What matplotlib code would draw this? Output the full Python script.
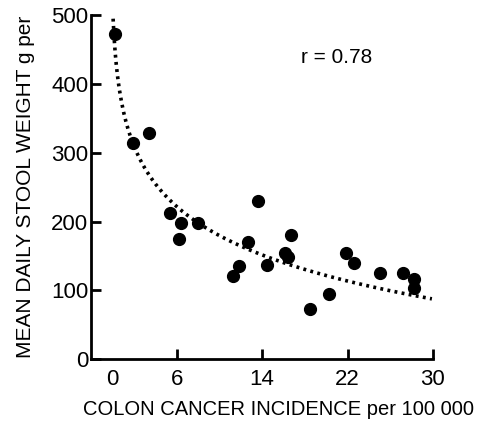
import numpy as np
import matplotlib
matplotlib.use("Agg")
import matplotlib.pyplot as plt

plt.rcParams['font.family'] = ['Liberation Sans', 'DejaVu Sans']

# colon cancer incidence per 100 000 vs mean daily stool weight
incidence = [0.2, 1.9, 3.4, 5.4, 6.4, 6.2, 8.0, 13.6, 12.7, 11.3, 11.8, 14.5,
             16.1, 16.4, 16.7, 18.5, 20.3, 21.9, 22.6, 25.0, 27.2, 28.2, 28.2]
stool = [472, 314, 328, 213, 198, 174, 198, 230, 170, 121, 135, 137,
         154, 148, 180, 73, 95, 154, 140, 125, 125, 116, 103]

# log trend line y = a - b*ln(x + c)
fit_a, fit_b, fit_c = 377.0, 85.0, 0.2
fit_range = (0.05, 29.9)

xticks = [0, 6, 14, 22, 30]
yticks = [0, 100, 200, 300, 400, 500]

fig = plt.figure(figsize=(4.8, 4.21), dpi=100)
ax = fig.add_axes([0.19, 0.147, 0.712, 0.817])

xs = np.linspace(fit_range[0], fit_range[1], 300)
ax.plot(xs, fit_a - fit_b * np.log(xs + fit_c), color='black', lw=2.6,
        linestyle=(0, (0.8, 1.2)), zorder=2)
ax.plot(incidence, stool, 'o', color='black', markersize=8.5, zorder=3)

ax.text(21, 439, 'r = 0.78', fontsize=15, ha='center', va='center')

ax.set_xlim(-2, 30)
ax.set_ylim(0, 500)
ax.set_xticks(xticks)
ax.set_yticks(yticks)
ax.tick_params(axis='both', direction='in', length=7, width=2, labelsize=16)
ax.tick_params(axis='x', pad=7)
ax.tick_params(axis='y', pad=2)
ax.xaxis.get_major_ticks()[0].tick1line.set_visible(False)

for s in ['top', 'right']:
    ax.spines[s].set_visible(False)
for s in ['left', 'bottom']:
    ax.spines[s].set_linewidth(2)

ax.set_xlabel('COLON CANCER INCIDENCE per 100 000', fontsize=14.5)
ax.xaxis.set_label_coords(0.547, -0.118)
ax.set_ylabel('MEAN DAILY STOOL WEIGHT g per', fontsize=15, labelpad=12)

fig.savefig('out.png', dpi=100)
